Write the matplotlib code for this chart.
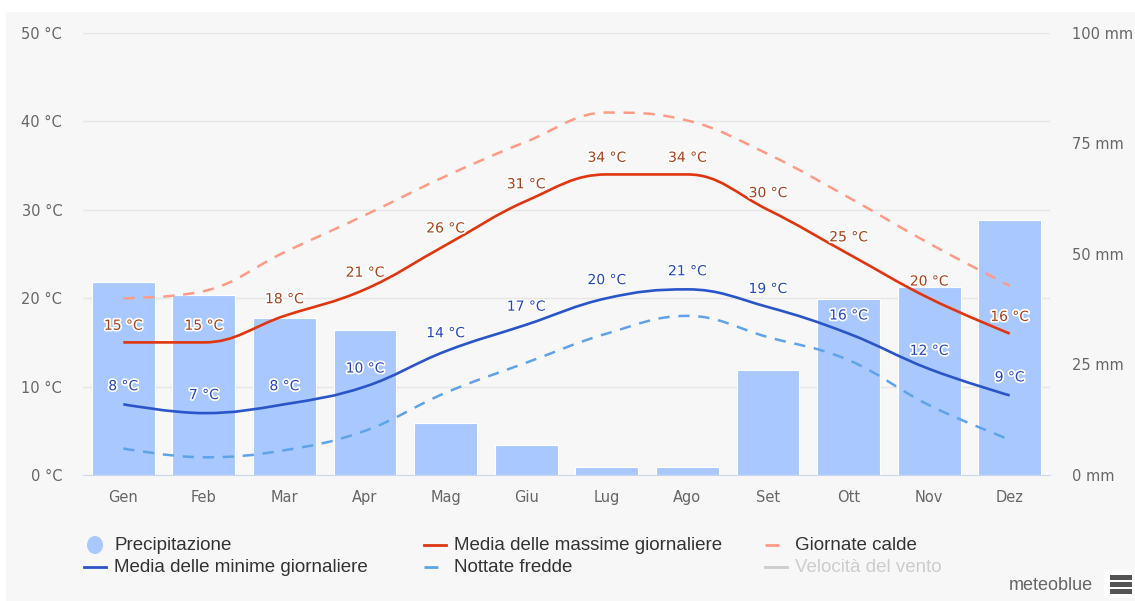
import matplotlib
matplotlib.use("Agg")
import matplotlib.pyplot as plt
import matplotlib.patheffects as pe
from matplotlib.path import Path
from matplotlib.patches import PathPatch, Rectangle, Ellipse
from matplotlib.lines import Line2D

# Dati climatici mensili
mesi = ["Gen", "Feb", "Mar", "Apr", "Mag", "Giu", "Lug", "Ago", "Set", "Ott", "Nov", "Dez"]
precipitazione = [43.7, 40.7, 35.5, 32.8, 11.8, 6.8, 1.8, 1.8, 23.8, 39.8, 42.5, 57.7]
max_giornaliere = [15, 15, 18, 21, 26, 31, 34, 34, 30, 25, 20, 16]
min_giornaliere = [8, 7, 8, 10, 14, 17, 20, 21, 19, 16, 12, 9]
giornate_calde = [20.0, 20.8, 25.2, 29.4, 33.8, 37.7, 41.0, 40.1, 36.3, 31.4, 26.2, 21.4]
nottate_fredde = [3.0, 2.0, 2.8, 5.0, 9.3, 12.7, 16.0, 18.0, 15.6, 13.0, 7.9, 4.0]

W, H = 1135, 601
BG = "#f7f7f7"
C_BAR = "#a9c8ff"
C_MAX = "#e0360f"
C_HOT = "#ff9a85"
C_MIN = "#2a55c8"
C_COLD = "#5ea3ea"


def fx(px):
    return px / W


def fy(py):
    return 1 - py / H


def spline_path(xs, ys, smoothing=1.5):
    # curva morbida stile Highcharts (punti di controllo senza overshoot)
    verts = [(xs[0], ys[0])]
    codes = [Path.MOVETO]
    n = len(xs)
    left_ctrl = [None] * n
    right_ctrl = [None] * n
    d = smoothing + 1
    for i in range(1, n - 1):
        x, y = xs[i], ys[i]
        lx, ly = xs[i - 1], ys[i - 1]
        nx, ny = xs[i + 1], ys[i + 1]
        lcx, lcy = (smoothing * x + lx) / d, (smoothing * y + ly) / d
        rcx, rcy = (smoothing * x + nx) / d, (smoothing * y + ny) / d
        corr = (rcy - lcy) * (rcx - x) / (rcx - lcx) + y - rcy
        lcy += corr
        rcy += corr
        if lcy > ly and lcy > y:
            lcy = max(ly, y)
            rcy = 2 * y - lcy
        elif lcy < ly and lcy < y:
            lcy = min(ly, y)
            rcy = 2 * y - lcy
        if rcy > ny and rcy > y:
            rcy = max(ny, y)
            lcy = 2 * y - rcy
        elif rcy < ny and rcy < y:
            rcy = min(ny, y)
            lcy = 2 * y - rcy
        left_ctrl[i] = (lcx, lcy)
        right_ctrl[i] = (rcx, rcy)
    for i in range(1, n):
        c1 = right_ctrl[i - 1] if right_ctrl[i - 1] else (xs[i - 1], ys[i - 1])
        c2 = left_ctrl[i] if left_ctrl[i] else (xs[i], ys[i])
        verts += [c1, c2, (xs[i], ys[i])]
        codes += [Path.CURVE4] * 3
    return Path(verts, codes)


fig = plt.figure(figsize=(W / 100, H / 100), dpi=100, facecolor="white")
fig.patches.append(Rectangle((fx(6), 0), 1 - fx(6), fy(12), transform=fig.transFigure,
                             facecolor=BG, edgecolor="none", zorder=-10))

ax = fig.add_axes([fx(83), fy(475), fx(1050) - fx(83), fy(33) - fy(475)])
ax.set_facecolor(BG)
ax2 = ax.twinx()

x = list(range(len(mesi)))

# barre precipitazione (asse destro)
ax2.bar(x, precipitazione, width=0.78, color=C_BAR, edgecolor="white", linewidth=0.8, zorder=1)
ax2.set_ylim(0, 100)
ax2.set_yticks([0, 25, 50, 75, 100])
ax2.set_yticklabels([f"{v} mm" for v in [0, 25, 50, 75, 100]])

ax.set_zorder(ax2.get_zorder() + 1)
ax.patch.set_visible(False)
ax2.patch.set_visible(True)
ax2.patch.set_facecolor(BG)

ax.set_xlim(-0.5, 11.5)
ax.set_ylim(0, 50)
ax.set_yticks(range(0, 51, 10))
ax.set_yticklabels([f"{v} °C" for v in range(0, 51, 10)])
ax.set_xticks(x)
ax.set_xticklabels(mesi)

for a in (ax, ax2):
    for s in a.spines.values():
        s.set_visible(False)
    a.tick_params(length=0, labelsize=10.5, labelcolor="#666666")
ax.spines["bottom"].set_visible(True)
ax.spines["bottom"].set_color("#ccd6eb")
ax.tick_params(axis="x", pad=11)
ax.tick_params(axis="y", pad=15)
ax2.tick_params(axis="y", pad=16)
ax2.grid(False)
for v in range(10, 51, 10):
    ax2.axhline(v * 2, color="#e6e6e6", linewidth=1, zorder=0)

series = [
    (giornate_calde, C_HOT, (0, (4.5, 3.5)), 1.8),
    (nottate_fredde, C_COLD, (0, (4.5, 3.5)), 1.8),
    (max_giornaliere, C_MAX, "solid", 1.9),
    (min_giornaliere, C_MIN, "solid", 1.9),
]
for ys, col, ls, lw in series:
    p = spline_path(x, ys)
    ax.add_patch(PathPatch(p, facecolor="none", edgecolor=col, linestyle=ls,
                           linewidth=lw, zorder=3, capstyle="butt"))

stroke = [pe.withStroke(linewidth=2.5, foreground="white")]
for xi, v in zip(x, max_giornaliere):
    ax.annotate(f"{v} °C", (xi, v), xytext=(0, 12), textcoords="offset points",
                ha="center", va="center", fontsize=10, color="#a8401a",
                path_effects=stroke, zorder=5)
for xi, v in zip(x, min_giornaliere):
    ax.annotate(f"{v} °C", (xi, v), xytext=(0, 13), textcoords="offset points",
                ha="center", va="center", fontsize=10, color="#2447bd",
                path_effects=stroke, zorder=5)

# legenda manuale
legend_items = [
    ("Precipitazione", 95, 545, "dot", C_BAR, "#333333"),
    ("Media delle massime giornaliere", 435, 545, "solid", C_MAX, "#333333"),
    ("Giornate calde", 776, 545, "dash", C_HOT, "#333333"),
    ("Media delle minime giornaliere", 95, 567, "solid", C_MIN, "#333333"),
    ("Nottate fredde", 435, 567, "dash", C_COLD, "#333333"),
    ("Velocità del vento", 776, 567, "solid", "#cccccc", "#cccccc"),
]
for label, px, py, kind, col, tcol in legend_items:
    if kind == "dot":
        fig.patches.append(Ellipse((fx(px), fy(py)), fx(16), 18 / H, transform=fig.transFigure,
                                   facecolor=col, edgecolor="none"))
    elif kind == "solid":
        fig.lines.append(Line2D([fx(px - 11), fx(px + 11)], [fy(py), fy(py)], color=col,
                                linewidth=2, transform=fig.transFigure))
    else:
        fig.lines.append(Line2D([fx(px - 11), fx(px + 11)], [fy(py), fy(py)], color=col,
                                linewidth=2, linestyle=(0, (5, 3)), transform=fig.transFigure))
    fig.text(fx(px + 19), fy(py), label, fontsize=13.5, color=tcol, va="center", ha="left",
             family="Liberation Sans")

fig.text(fx(1093), fy(585), "meteoblue", fontsize=13, color="#666666", ha="right", va="center",
         family="Liberation Sans")
fig.patches.append(Rectangle((fx(1104), fy(598)), fx(31), 28 / H, transform=fig.transFigure,
                             facecolor="white", edgecolor="none"))
for dy in (577, 584, 591):
    fig.patches.append(Rectangle((fx(1110), fy(dy + 2.5)), fx(22), 5 / H, transform=fig.transFigure,
                                 facecolor="#555555", edgecolor="none"))

fig.savefig("out.png", dpi=100, facecolor="white")
